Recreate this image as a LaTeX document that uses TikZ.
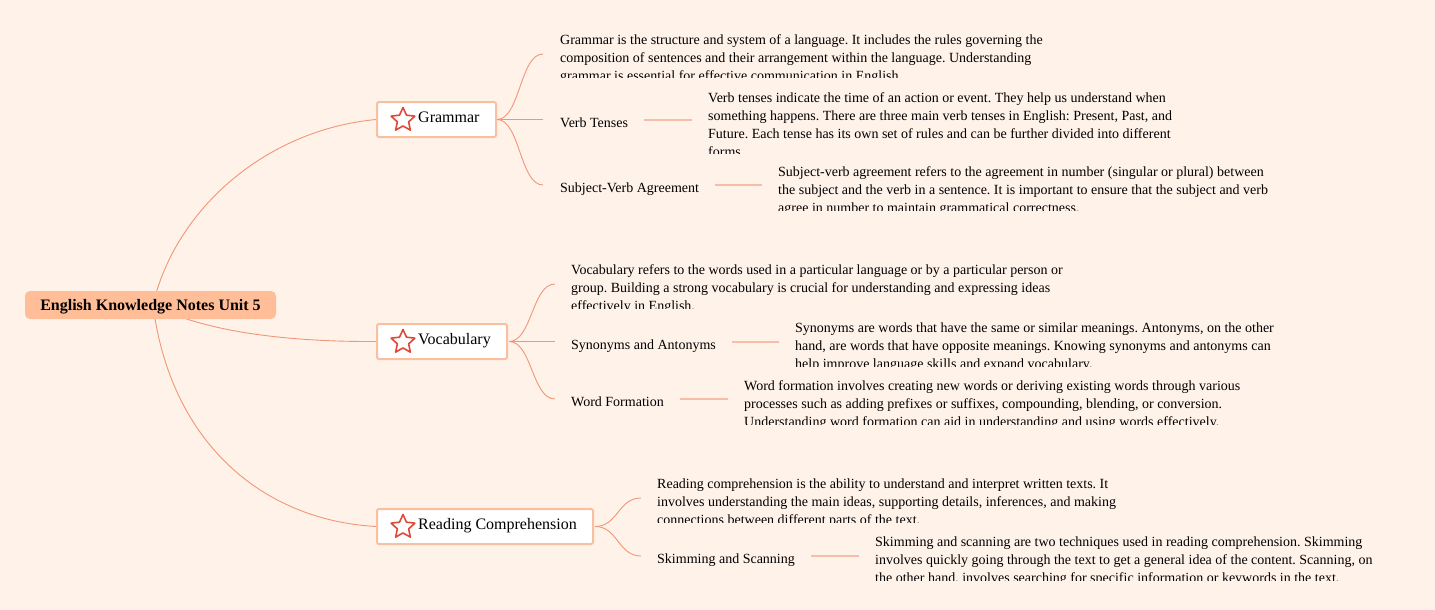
\documentclass[tikz,border=0pt]{standalone}
\usepackage{fontspec}
\setmainfont{Liberation Serif}
\usetikzlibrary{shapes.geometric,calc}
\pgfdeclarelayer{bg}
\pgfsetlayers{bg,main}
\definecolor{bgc}{RGB}{255,242,233}
\definecolor{rootc}{RGB}{255,190,152}
\definecolor{boxc}{RGB}{249,192,160}
\definecolor{edgec}{RGB}{242,150,120}
\definecolor{leafc}{RGB}{246,190,168}
\definecolor{starc}{RGB}{224,72,58}
\tikzset{
 rootbox/.style={fill=rootc, rounded corners=5pt, minimum width=251pt, minimum height=28pt, inner sep=0pt, text height=10pt, text depth=0pt, font=\fontsize{16}{19}\selectfont\bfseries},
 topicbox/.style={draw=boxc, line width=2pt, fill=white, rounded corners=2pt, inner sep=0pt, anchor=west, minimum height=35pt},
 topiclabel/.style={anchor=base west, inner sep=0pt, font=\fontsize{16}{19}\selectfont},
 staricon/.style={star, star points=5, star point ratio=2.1, draw=starc, line width=1.6pt, line join=round, fill=white, minimum size=25pt, inner sep=0pt},
 sublabel/.style={anchor=west, inner sep=0pt, text height=14pt, text depth=0pt, font=\fontsize{14}{18}\selectfont},
 desc/.style={anchor=north west, inner sep=0pt, align=left, font=\fontsize{14}{18}\selectfont\frenchspacing},
 rootedge/.style={draw=edgec, line width=0.9pt},
 branch/.style={draw=edgec, line width=0.9pt},
 leafline/.style={draw=leafc, line width=1.6pt},
}
\newcommand\descblock[5]{%
 \begin{scope}
 \clip (#2,#3-14) rectangle (1435,#4);
 \node[desc] (#1) at (#2,#3-11.6) {\strut #5};
 \end{scope}}
\begin{document}
\begin{tikzpicture}[x=1pt,y=-1pt]
\begin{pgfonlayer}{bg}
\fill[bgc] (0,0) rectangle (1435,610);
\end{pgfonlayer}
\useasboundingbox (0,0) rectangle (1435,610);

% root
\node[rootbox] (root) at (150.5,305) {English Knowledge Notes Unit 5};
\coordinate (rootc) at (153,305);

% topic boxes
\node[topicbox, minimum width=119pt] (gbox) at (376,119.5) {};
\node[topicbox, minimum width=130pt] (vbox) at (376,341.5) {};
\node[topicbox, minimum width=216pt] (rbox) at (376,526.5) {};
\node[staricon] (gstar) at (403,120) {};
\node[staricon] (vstar) at (403,342) {};
\node[staricon] (rstar) at (403,527) {};
\node[topiclabel] (glabel) at (418,122) {Grammar};
\node[topiclabel] (vlabel) at (418,344) {Vocabulary};
\node[topiclabel] (rlabel) at (418,529) {Reading Comprehension};

% root edges
\begin{pgfonlayer}{bg}
\draw[rootedge] (rootc) .. controls (175,210) and (265,130) .. (gbox.west);
\draw[rootedge] (rootc) .. controls (200,330) and (280,342) .. (vbox.west);
\draw[rootedge] (rootc) .. controls (170,440) and (260,520) .. (rbox.west);
\end{pgfonlayer}

% branch points and child anchors
\coordinate (gB) at (497,119.5);
\coordinate (g1) at (543,54);
\coordinate (g2) at (543,119.5);
\coordinate (g3) at (543,185);
\coordinate (vB) at (509,341.5);
\coordinate (v1) at (555,284);
\coordinate (v2) at (555,341.5);
\coordinate (v3) at (555,399);
\coordinate (rB) at (595,526.5);
\coordinate (r1) at (641,498);
\coordinate (r2) at (641,556);

\draw[branch] (gB) .. controls (520,119.5) and (520,54) .. (g1);
\draw[branch] (gB) -- (g2);
\draw[branch] (gB) .. controls (520,119.5) and (520,185) .. (g3);
\draw[branch] (vB) .. controls (532,341.5) and (532,284) .. (v1);
\draw[branch] (vB) -- (v2);
\draw[branch] (vB) .. controls (532,341.5) and (532,399) .. (v3);
\draw[branch] (rB) .. controls (618,526.5) and (618,498) .. (r1);
\draw[branch] (rB) .. controls (618,526.5) and (618,556) .. (r2);

% sub labels
\node[sublabel] (vt) at (560,120) {Verb Tenses};
\node[sublabel] (sva) at (560,185) {Subject-Verb Agreement};
\node[sublabel] (syn) at (571,342) {Synonyms and Antonyms};
\node[sublabel] (wf) at (571,399) {Word Formation};
\node[sublabel] (ss) at (657,556) {Skimming and Scanning};

% descriptions
\descblock{gdesc}{560}{43.5}{78}{Grammar is the structure and system of a language. It includes the rules governing the\\ composition of sentences and their arrangement within the language. Understanding\\ grammar is essential for effective communication in English.}
\descblock{vtdesc}{708}{101.5}{153}{Verb tenses indicate the time of an action or event. They help us understand when\\ something happens. There are three main verb tenses in English: Present, Past, and\\ Future. Each tense has its own set of rules and can be further divided into different\\ forms.}
\descblock{svdesc}{778}{175.5}{210}{Subject-verb agreement refers to the agreement in number (singular or plural) between\\ the subject and the verb in a sentence. It is important to ensure that the subject and verb\\ agree in number to maintain grammatical correctness.}
\descblock{vdesc}{571}{273.5}{308}{Vocabulary refers to the words used in a particular language or by a particular person or\\ group. Building a strong vocabulary is crucial for understanding and expressing ideas\\ effectively in English.}
\descblock{syndesc}{795}{331.5}{366}{Synonyms are words that have the same or similar meanings. Antonyms, on the other\\ hand, are words that have opposite meanings. Knowing synonyms and antonyms can\\ help improve language skills and expand vocabulary.}
\descblock{wfdesc}{744}{389.5}{424}{Word formation involves creating new words or deriving existing words through various\\ processes such as adding prefixes or suffixes, compounding, blending, or conversion.\\ Understanding word formation can aid in understanding and using words effectively.}
\descblock{rcdesc}{657}{487.5}{522}{Reading comprehension is the ability to understand and interpret written texts. It\\ involves understanding the main ideas, supporting details, inferences, and making\\ connections between different parts of the text.}
\descblock{ssdesc}{875}{545.5}{580}{Skimming and scanning are two techniques used in reading comprehension. Skimming\\ involves quickly going through the text to get a general idea of the content. Scanning, on\\ the other hand, involves searching for specific information or keywords in the text.}

% leaf lines
\draw[leafline] ([xshift=16pt]vt.east) -- ($(vt.east -| vtdesc.west)+(-16,0)$);
\draw[leafline] ([xshift=16pt]sva.east) -- ($(sva.east -| svdesc.west)+(-16,0)$);
\draw[leafline] ([xshift=16pt]syn.east) -- ($(syn.east -| syndesc.west)+(-16,0)$);
\draw[leafline] ([xshift=16pt]wf.east) -- ($(wf.east -| wfdesc.west)+(-16,0)$);
\draw[leafline] ([xshift=16pt]ss.east) -- ($(ss.east -| ssdesc.west)+(-16,0)$);
\end{tikzpicture}
\end{document}
